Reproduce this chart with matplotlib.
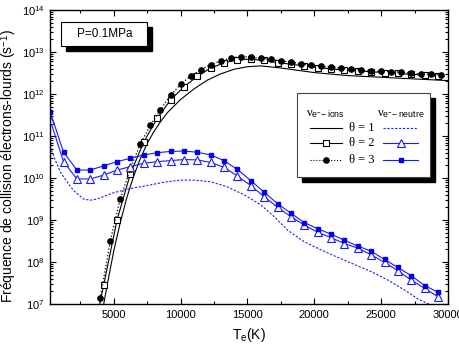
import numpy as np
import matplotlib
matplotlib.use('Agg')
import matplotlib.pyplot as plt
from matplotlib.patches import Rectangle
from matplotlib.ticker import MultipleLocator, LogLocator, NullFormatter

plt.rcParams['font.family'] = ['Liberation Sans', 'DejaVu Sans']
plt.rcParams['mathtext.fontset'] = 'custom'
plt.rcParams['mathtext.rm'] = 'Liberation Sans'
plt.rcParams['mathtext.it'] = 'Liberation Serif'

# electron-ion collision frequency, theta = 3 (dotted, filled circles)
T_ion3 = [3250, 4000, 4750, 5500, 6250, 7000, 7750, 8500, 9250, 10000, 10750,
          11500, 12250, 13000, 13750, 14500, 15250, 16000, 16750, 17500, 18250,
          19000, 19750, 20500, 21250, 22000, 22750, 23500, 24250, 25000, 25750,
          26500, 27250, 28000, 28750, 29500]
ion3 = [2.2e5, 1.41e7, 3.24e8, 3.24e9, 1.66e10, 6.61e10, 1.82e11, 4.27e11,
        9.33e11, 1.70e12, 2.69e12, 3.72e12, 5.01e12, 6.17e12, 7.24e12, 7.76e12,
        7.59e12, 7.08e12, 6.76e12, 6.17e12, 5.75e12, 5.25e12, 4.79e12, 4.57e12,
        4.37e12, 4.17e12, 3.98e12, 3.72e12, 3.55e12, 3.47e12, 3.39e12, 3.31e12,
        3.16e12, 3.02e12, 2.95e12, 2.88e12]

# theta = 2 (open squares) -- same T grid for the neutral curves
T_grid = [250, 1250, 2250, 3250, 4250, 5250, 6250, 7250, 8250, 9250, 10250,
          11250, 12250, 13250, 14250, 15250, 16250, 17250, 18250, 19250, 20250,
          21250, 22250, 23250, 24250, 25250, 26250, 27250, 28250, 29250]
T_ion2 = T_grid[3:]
ion2 = [8.0e5, 2.8e7, 1.0e9, 1.26e10, 7.24e10, 2.63e11, 7.24e11, 1.48e12,
        2.63e12, 4.17e12, 5.50e12, 6.61e12, 6.76e12, 6.31e12, 5.62e12, 5.13e12,
        4.68e12, 4.27e12, 3.98e12, 3.72e12, 3.55e12, 3.39e12, 3.24e12, 3.09e12,
        2.95e12, 2.82e12, 2.69e12]

# theta = 1 (plain line)
T_ion1 = [4000, 4500, 5000, 5500, 6000, 6500, 7000, 7500, 8000, 8500, 9000,
          10000, 11000, 12000, 13000, 14000, 15000, 16000, 17500, 20000, 22500,
          25000, 27500, 30000]
ion1 = [3.5e6, 2.7e7, 1.78e8, 8.9e8, 3.55e9, 1.12e10, 2.95e10, 6.61e10,
        1.26e11, 2.19e11, 3.55e11, 7.41e11, 1.32e12, 2.14e12, 3.02e12, 3.89e12,
        4.47e12, 4.68e12, 4.17e12, 3.24e12, 2.75e12, 2.51e12, 2.29e12, 2.09e12]

# electron-neutral collision frequency
neu3 = [3.8e11, 4.1e10, 1.55e10, 1.55e10, 1.95e10, 2.45e10, 2.95e10, 3.55e10,
        4.0e10, 4.3e10, 4.4e10, 4.1e10, 3.55e10, 2.6e10, 1.6e10, 8.7e9, 4.6e9,
        2.45e9, 1.45e9, 8.7e8, 6.2e8, 4.6e8, 3.3e8, 2.4e8, 1.8e8, 1.15e8,
        7.4e7, 4.7e7, 2.75e7, 1.9e7]
neu2 = [2.4e11, 2.45e10, 9.5e9, 9.5e9, 1.17e10, 1.55e10, 1.86e10, 2.25e10,
        2.45e10, 2.6e10, 2.75e10, 2.7e10, 2.35e10, 1.8e10, 1.12e10, 6.6e9,
        3.6e9, 2.0e9, 1.2e9, 7.6e8, 5.1e8, 3.8e8, 2.75e8, 2.15e8, 1.48e8,
        9.8e7, 6.2e7, 3.7e7, 2.35e7, 1.48e7]
T_neu1 = [250, 600, 1000, 1600, 2000, 2750, 3250, 3750, 5000, 6250, 7500, 8750,
          10000, 11000, 12250, 13500, 14750, 16000, 17000, 18000, 19250, 20500,
          21750, 23000, 24250, 25500, 26750, 27750, 28750, 30000]
neu1 = [5.62e10, 2.82e10, 1.41e10, 7.41e9, 5.01e9, 3.16e9, 2.95e9, 3.16e9,
        4.47e9, 5.62e9, 6.61e9, 7.94e9, 8.91e9, 8.91e9, 8.13e9, 6.17e9, 3.98e9,
        2.29e9, 1.20e9, 5.75e8, 3.02e8, 1.95e8, 1.29e8, 8.71e7, 5.89e7, 3.72e7,
        2.14e7, 1.32e7, 9.33e6, 5.01e6]

blue = '#1a1aff'

fig = plt.figure(figsize=(4.6, 3.47), dpi=100)
ax = fig.add_axes([0.109, 0.124, 0.865, 0.847])

ax.plot(T_ion1, ion1, '-', color='k', lw=0.8)
ax.plot(T_ion2, ion2, '-', color='k', lw=0.8, marker='s', ms=5,
        mfc='white', mec='k', mew=0.8)
ax.plot(T_ion3, ion3, ':', color='k', lw=0.9, marker='o', ms=3.8,
        mfc='k', mec='k')

ax.plot(T_neu1, neu1, color=blue, lw=0.8, dashes=(2, 1.5))
ax.plot(T_grid, neu2, '-', color=blue, lw=0.8, marker='^', ms=6,
        mfc='white', mec=blue, mew=0.8)
ax.plot(T_grid, neu3, '-', color=blue, lw=0.8, marker='s', ms=3.5,
        mfc='#0000ee', mec='#0000ee')

ax.set_yscale('log')
ax.set_xlim(250, 30000)
ax.set_ylim(1e7, 1e14)
ax.set_xticks([5000, 10000, 15000, 20000, 25000, 30000])
ax.xaxis.set_minor_locator(MultipleLocator(2500))
ax.yaxis.set_major_locator(LogLocator(base=10, numticks=20))
ax.yaxis.set_minor_locator(LogLocator(base=10, subs=np.arange(2, 10), numticks=20))
ax.yaxis.set_minor_formatter(NullFormatter())
ax.tick_params(which='both', direction='in', top=True, right=True,
               labelsize=8, width=0.8)
ax.tick_params(which='major', length=4, pad=4)
ax.tick_params(which='minor', length=2)
for s in ax.spines.values():
    s.set_linewidth(1.0)

ax.set_xlabel('T$_{\\mathregular{e}}$(K)', fontsize=10, labelpad=5)
ax.set_ylabel('Fréquence de collision électrons-lourds (s$^{-1}$)', fontsize=10)
ax.yaxis.set_label_coords(-0.078, 0.468)

# pressure box
ax.add_patch(Rectangle((0.040, 0.862), 0.216, 0.082, transform=ax.transAxes,
                       facecolor='k', edgecolor='k', zorder=5))
ax.add_patch(Rectangle((0.028, 0.879), 0.216, 0.082, transform=ax.transAxes,
                       facecolor='white', edgecolor='k', lw=0.8, zorder=6))
ax.text(0.136, 0.920, 'P=0.1MPa', transform=ax.transAxes, fontsize=8.5,
        ha='center', va='center', zorder=7)

# hand made legend
ax.add_patch(Rectangle((0.633, 0.416), 0.335, 0.284, transform=ax.transAxes,
                       facecolor='k', edgecolor='k', zorder=5, clip_on=False))
ax.add_patch(Rectangle((0.620, 0.433), 0.335, 0.284, transform=ax.transAxes,
                       facecolor='white', edgecolor='#444444', lw=0.8, zorder=6))
ax.text(0.692, 0.645, r'$\nu_{\mathregular{e^{-}\!-ions}}$', transform=ax.transAxes,
        fontsize=9, ha='center', va='center', zorder=7)
ax.text(0.882, 0.645, r'$\nu_{\mathregular{e^{-}\!-neutre}}$', transform=ax.transAxes,
        fontsize=9, ha='center', va='center', zorder=7)

rows = [0.598, 0.549, 0.490]
ion_styles = [dict(ls='-', marker=None),
              dict(ls='-', marker='s', ms=5, mfc='white', mec='k', mew=0.8),
              dict(ls=':', marker='o', ms=3.8, mfc='k', mec='k')]
neu_styles = [dict(dashes=(2, 1.5), marker=None),
              dict(ls='-', marker='^', ms=6, mfc='white', mec=blue, mew=0.8),
              dict(ls='-', marker='s', ms=3.5, mfc='#0000ee', mec='#0000ee')]
for i, y in enumerate(rows):
    ax.plot([0.653, 0.693, 0.733], [y, y, y], color='k', lw=0.8,
            transform=ax.transAxes, markevery=[1], zorder=7, **ion_styles[i])
    ax.plot([0.837, 0.881, 0.925], [y, y, y], color=blue, lw=0.8,
            transform=ax.transAxes, markevery=[1], zorder=7, **neu_styles[i])
    ax.text(0.783, y, 'θ = %d' % (i + 1), transform=ax.transAxes,
            fontsize=9, family='Liberation Serif', ha='center', va='center',
            zorder=7)

fig.savefig('out.png', dpi=100)
